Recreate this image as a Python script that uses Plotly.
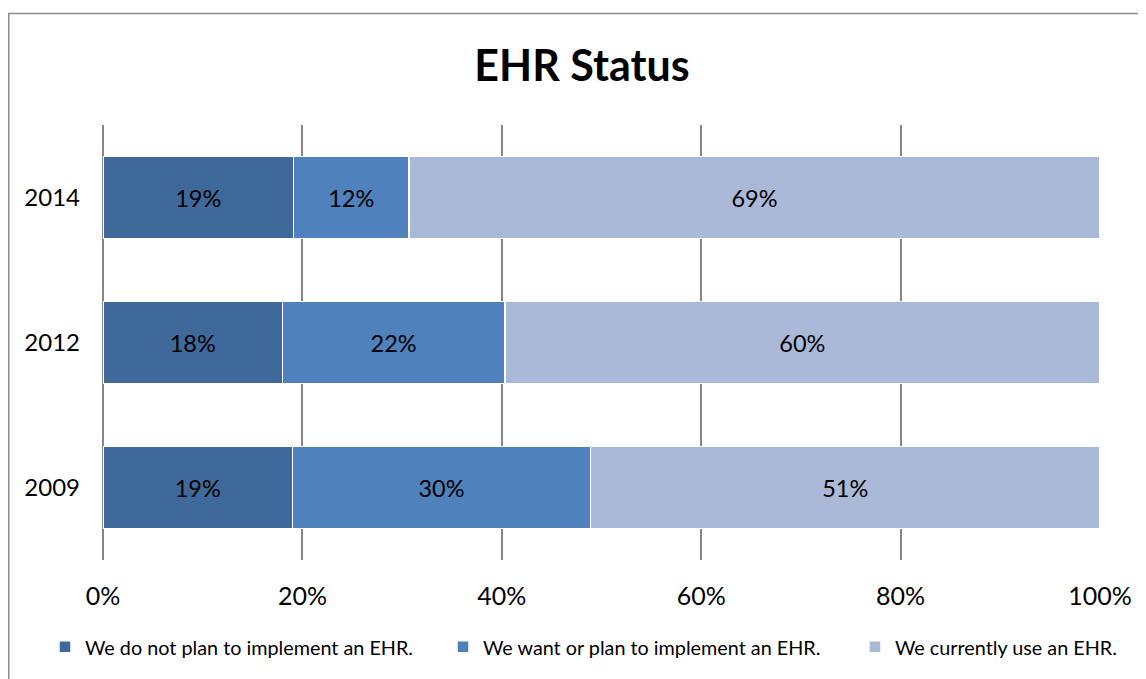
import plotly.graph_objects as go

years = ["2009", "2012", "2014"]
series_names = [
    "We do not plan to implement an EHR.",
    "We want or plan to implement an EHR.",
    "We currently use an EHR.",
]
not_plan = [19.0, 18.0, 19.1]
want_plan = [29.9, 22.3, 11.6]
currently_use = [51.1, 59.7, 69.3]
colors = ["#40699B", "#4F81BD", "#AAB9D7"]
x_ticks = [0, 20, 40, 60, 80, 100]
x_tick_labels = ["0%", "20%", "40%", "60%", "80%", "100%"]

FONT = "Lato"
# figure is drawn at an 8px body offset in the page
W, H = 1138, 671
L, R, T, B = 95, 46, 117, 119
PW, PH = W - L - R, H - T - B


def px_x(fx):
    return (fx - L) / PW


def px_y(fy):
    return (H - B - fy) / PH


fig = go.Figure()
legend_ids = ["legend", "legend2", "legend3"]
for name, vals, col, lg in zip(series_names, [not_plan, want_plan, currently_use], colors, legend_ids):
    fig.add_trace(go.Bar(
        y=years, x=vals, name=name, orientation="h", legend=lg,
        marker=dict(color=col, line=dict(color="white", width=1.5)),
        text=vals, texttemplate="%{x:.0f}%", textposition="inside",
        insidetextanchor="middle",
        textfont=dict(family=FONT, size=23.5, color="black"),
        width=0.566,
    ))

legend_common = dict(orientation="h", xanchor="left", yanchor="middle",
                     y=px_y(639), font=dict(family=FONT, size=19.8, color="black"),
                     itemclick=False, itemdoubleclick=False, bgcolor="rgba(0,0,0,0)")
legend_text_starts = [85 - 8, 483 - 8, 895 - 8]

fig.update_layout(
    width=W, height=H,
    barmode="stack",
    paper_bgcolor="white", plot_bgcolor="white",
    margin=dict(l=L, r=R, t=T, b=B, autoexpand=False),
    font=dict(family=FONT, color="black"),
    title=dict(text="<b>EHR Status</b>", x=(582 - 8) / W, xanchor="center",
               y=1 - (66 - 8) / H, yanchor="middle", yref="container",
               font=dict(family=FONT, size=43, color="black")),
    legend=dict(x=px_x(legend_text_starts[0] - 40), **legend_common),
    legend2=dict(x=px_x(legend_text_starts[1] - 40), **legend_common),
    legend3=dict(x=px_x(legend_text_starts[2] - 40), **legend_common),
    showlegend=True,
)
fig.update_xaxes(range=[0, 100], tickvals=x_ticks, ticktext=x_tick_labels,
                 showgrid=True, gridcolor="#868686", gridwidth=1.5,
                 zeroline=True, zerolinecolor="#868686", zerolinewidth=1.5,
                 showline=False, ticks="", ticklabelstandoff=19,
                 tickfont=dict(family=FONT, size=25, color="black"), fixedrange=True)
fig.update_yaxes(showgrid=False, zeroline=False, showline=False, ticks="",
                 ticklabelstandoff=22, categoryorder="array", categoryarray=years,
                 tickfont=dict(family=FONT, size=24, color="black"), fixedrange=True)

# outer chart border (left and top edges visible; right/bottom run off the page)
fig.add_shape(type="rect", xref="paper", yref="paper",
              x0=px_x(0.75), x1=px_x(W + 20),
              y0=px_y(H + 20), y1=px_y(5.5),
              line=dict(color="#8C8C8C", width=1.5), fillcolor="rgba(0,0,0,0)", layer="below")

fig.write_html("out.html")
